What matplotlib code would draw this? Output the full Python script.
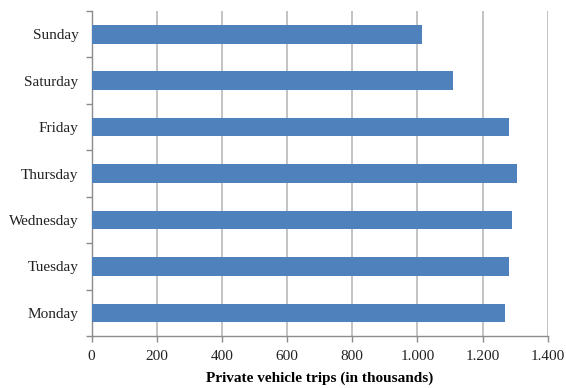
import matplotlib.pyplot as plt
from matplotlib.ticker import FuncFormatter, MultipleLocator

days = ['Monday', 'Tuesday', 'Wednesday', 'Thursday', 'Friday', 'Saturday', 'Sunday']
trips = [1269, 1282, 1290, 1306, 1282, 1110, 1013]

plt.rcParams['font.family'] = ['Liberation Serif', 'DejaVu Serif']

fig = plt.figure(figsize=(5.66, 3.88), dpi=100)
ax = fig.add_axes([91.5 / 566, 52 / 388, 456.2 / 566, 325 / 388])

ax.barh(range(len(days)), trips, height=0.4, color='#4F81BD', zorder=3)

ax.set_xlim(0, 1400)
ax.set_ylim(-0.5, len(days) - 0.5)
ax.xaxis.set_major_locator(MultipleLocator(200))
ax.xaxis.set_major_formatter(FuncFormatter(lambda v, p: f'{int(v):,}'.replace(',', '.')))
ax.grid(axis='x', color='#BEBEBE', linewidth=1.3, zorder=0)

ax.set_yticks(range(len(days)))
ax.set_yticklabels(days)
ax.set_yticks([i - 0.5 for i in range(len(days) + 1)], minor=True)
ax.tick_params(axis='y', which='major', length=0, pad=9.5, labelsize=11, colors='#222222')
ax.tick_params(axis='y', which='minor', length=4, color='#8C8C8C', width=1)
ax.tick_params(axis='x', length=4, color='#8C8C8C', width=1, labelsize=11, labelcolor='#222222', pad=6)

for s in ['top', 'right']:
    ax.spines[s].set_visible(False)
for s in ['left', 'bottom']:
    ax.spines[s].set_color('#8C8C8C')
    ax.spines[s].set_linewidth(1)

ax.set_xlabel('Private vehicle trips (in thousands)', fontsize=11, fontweight='bold', labelpad=6)

fig.savefig('out.png', dpi=100)
